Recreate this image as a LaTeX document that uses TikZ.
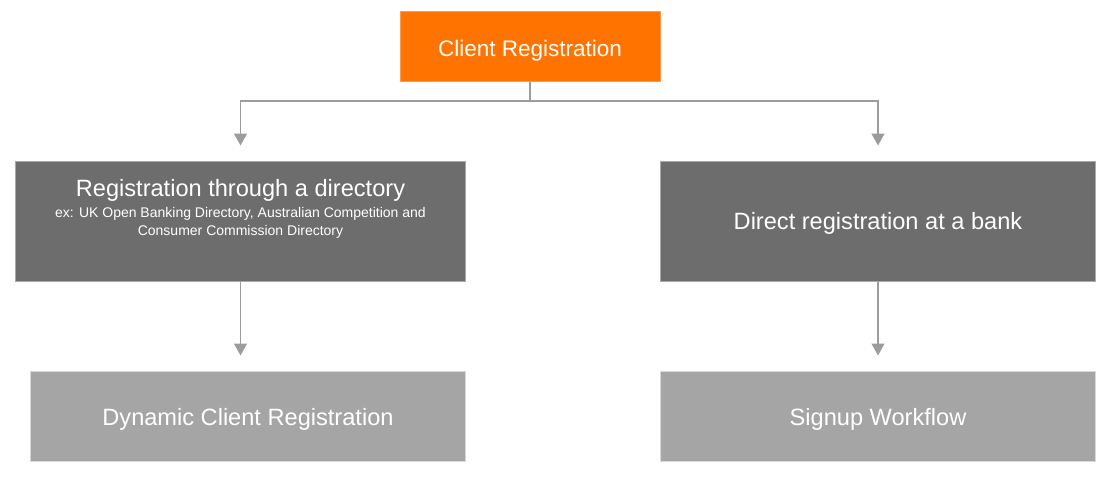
\documentclass[tikz,border=0pt]{standalone}
\usepackage{fontspec}
\setmainfont{Liberation Sans}
\usetikzlibrary{arrows.meta}
\definecolor{orangebox}{HTML}{FF7300}
\definecolor{orangeborder}{HTML}{FF9A4D}
\definecolor{darkbox}{HTML}{6D6D6D}
\definecolor{darkborder}{HTML}{A9A9A9}
\definecolor{lightbox}{HTML}{A5A5A5}
\definecolor{lightborder}{HTML}{D9D9D9}
\definecolor{conncol}{HTML}{9C9C9C}
\tikzset{
  boxbase/.style={rectangle, inner sep=0pt, text=white, line width=1pt, align=center, text depth=0pt},
  topbox/.style={boxbase, fill=orangebox, draw=orangeborder, minimum width=260pt, minimum height=70pt, text height=20pt, font=\fontsize{22.5}{26}\selectfont},
  midbox/.style={boxbase, fill=darkbox, draw=darkborder, minimum height=120pt, text height=16.9pt, font=\fontsize{23.6}{27}\selectfont},
  lowbox/.style={boxbase, fill=lightbox, draw=lightborder, minimum width=435pt, minimum height=90pt, text height=18.3pt, font=\fontsize{23.6}{27}\selectfont},
  titletext/.style={text=white, inner sep=0pt, anchor=base, font=\fontsize{23.6}{27}\selectfont},
  subtext/.style={text=white, inner sep=0pt, anchor=base, font=\fontsize{14}{17}\selectfont},
  conn/.style={draw=conncol, line width=1.3pt, -{Triangle[width=13pt,length=12pt]}},
  plainconn/.style={draw=conncol, line width=1.3pt}
}
\begin{document}
\begin{tikzpicture}[x=1pt,y=-1pt]
\useasboundingbox (0,0) rectangle (1112,477);
\node[topbox] (top) at (530,46) {Client Registration};
\node[midbox, minimum width=450pt] (dir) at (240.5,221) {};
\node[titletext] (dirtitle) at (240.5,196.7) {Registration through a directory};
\node[subtext] (dirsub1) at (240.5,217.5) {ex: UK Open Banking Directory, Australian Competition and};
\node[subtext] (dirsub2) at (240.5,235) {Consumer Commission Directory};
\node[midbox, minimum width=435pt] (bank) at (878,221) {Direct registration at a bank};
\node[lowbox] (dcr) at (248,416) {Dynamic Client Registration};
\node[lowbox] (signup) at (878,416) {Signup Workflow};
\coordinate (split) at (530,101);
\draw[plainconn] (top.south) -- (split);
\draw[conn] (split) -| ([yshift=15pt]dir.north);
\draw[conn] (split) -| ([yshift=15pt]bank.north);
\draw[conn] (dir.south) -- ([yshift=15pt]dir.south |- dcr.north);
\draw[conn] (bank.south) -- ([yshift=15pt]signup.north);
\end{tikzpicture}
\end{document}
